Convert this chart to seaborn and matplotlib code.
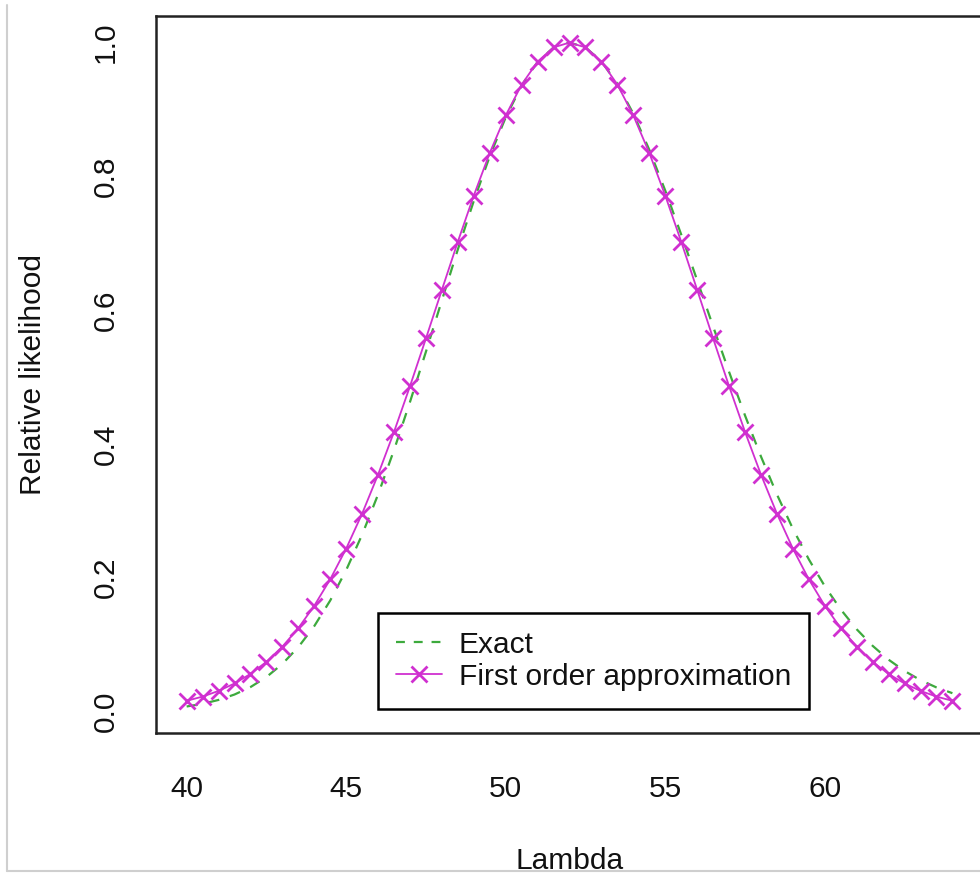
import matplotlib
matplotlib.use("Agg")
import matplotlib.pyplot as plt
from matplotlib.lines import Line2D
import pandas as pd
import seaborn as sns

# Grid of lambda values
lam = [40.0, 40.5, 41.0, 41.5, 42.0, 42.5, 43.0, 43.5, 44.0, 44.5,
       45.0, 45.5, 46.0, 46.5, 47.0, 47.5, 48.0, 48.5, 49.0, 49.5,
       50.0, 50.5, 51.0, 51.5, 52.0, 52.5, 53.0, 53.5, 54.0, 54.5,
       55.0, 55.5, 56.0, 56.5, 57.0, 57.5, 58.0, 58.5, 59.0, 59.5,
       60.0, 60.5, 61.0, 61.5, 62.0, 62.5, 63.0, 63.5, 64.0]

# Exact relative likelihood
exact = [0.0072, 0.0112, 0.0170, 0.0251, 0.0362, 0.0512, 0.0709, 0.0960, 0.1274, 0.1657,
         0.2112, 0.2642, 0.3243, 0.3908, 0.4626, 0.5378, 0.6146, 0.6907, 0.7633, 0.8300,
         0.8882, 0.9359, 0.9712, 0.9927, 1.0000, 0.9928, 0.9719, 0.9383, 0.8935, 0.8397,
         0.7787, 0.7130, 0.6446, 0.5755, 0.5076, 0.4424, 0.3810, 0.3243, 0.2730, 0.2272,
         0.1871, 0.1523, 0.1227, 0.0979, 0.0772, 0.0603, 0.0466, 0.0357, 0.0271]

# First order (normal) approximation
approx = [0.0157, 0.0220, 0.0305, 0.0416, 0.0559, 0.0740, 0.0967, 0.1244, 0.1579, 0.1974,
          0.2433, 0.2956, 0.3540, 0.4179, 0.4862, 0.5576, 0.6303, 0.7023, 0.7713, 0.8350,
          0.8910, 0.9372, 0.9716, 0.9928, 1.0000, 0.9928, 0.9716, 0.9372, 0.8910, 0.8350,
          0.7713, 0.7023, 0.6303, 0.5576, 0.4862, 0.4179, 0.3540, 0.2956, 0.2433, 0.1974,
          0.1579, 0.1244, 0.0967, 0.0740, 0.0559, 0.0416, 0.0305, 0.0220, 0.0157]

series_labels = ["Exact", "First order approximation"]
x_ticks = [40, 45, 50, 55, 60]
y_ticks = [0.0, 0.2, 0.4, 0.6, 0.8, 1.0]
y_tick_labels = ["0.0", "0.2", "0.4", "0.6", "0.8", "1.0"]

GREEN = "#3daa3d"
MAGENTA = "#d030d0"
INK = "#111111"
FS = 21.5

sns.set_theme(style="white")
plt.rcParams["font.family"] = ["Liberation Sans", "DejaVu Sans"]

df = pd.DataFrame({"Lambda": lam, "Exact": exact, "Approx": approx})

fig = plt.figure(figsize=(9.8, 8.76), dpi=100)
ax = fig.add_axes([0.1592, 0.1632, 0.8439, 0.8185])

sns.lineplot(data=df, x="Lambda", y="Exact", ax=ax, color=GREEN,
             linewidth=1.6, linestyle=(0, (5, 5)))
sns.lineplot(data=df, x="Lambda", y="Approx", ax=ax, color=MAGENTA,
             linewidth=1.3, marker="x", markersize=11, markeredgewidth=2.0,
             markeredgecolor=MAGENTA)

ax.set_xlim(39.04, 64.96)
ax.set_ylim(-0.0325, 1.0397)
ax.set_xticks(x_ticks)
ax.set_xticklabels([str(t) for t in x_ticks])
ax.set_yticks(y_ticks)
ax.set_yticklabels(y_tick_labels, rotation=90, va="center")

for side, sp in ax.spines.items():
    sp.set_color("#222222")
    sp.set_linewidth(1.8)

ax.tick_params(axis="both", direction="out", length=11.5, width=1.8,
               color="#222222", labelsize=FS, labelcolor=INK)
ax.tick_params(axis="x", pad=19)
ax.tick_params(axis="y", pad=14.5)

ax.set_xlabel("Lambda", fontsize=FS, color=INK)
ax.xaxis.label.set_va("baseline")
ax.xaxis.set_label_coords(0.5, -0.1897)
ax.set_ylabel("Relative likelihood", fontsize=FS, color=INK)
ax.yaxis.label.set_va("center")
ax.yaxis.set_label_coords(-0.1490, 0.5)

handles = [
    Line2D([], [], color=GREEN, linewidth=1.6, linestyle=(0, (4, 4))),
    Line2D([], [], color=MAGENTA, linewidth=1.3, marker="x", markersize=11,
           markeredgewidth=2.0),
]
leg = ax.legend(handles, series_labels, loc="upper left",
                bbox_to_anchor=(0.2684, 0.1674), borderaxespad=0,
                frameon=True, fancybox=False, framealpha=1, edgecolor="black",
                fontsize=FS, handlelength=1.55, handletextpad=0.55,
                borderpad=0.6, labelspacing=0.13)
leg.get_frame().set_linewidth(1.8)
for t in leg.get_texts():
    t.set_color(INK)

# faint outer frame on the left and bottom
fig.add_artist(Line2D([7 / 980, 7 / 980], [1 - 5 / 876, 1 - 871 / 876],
                      transform=fig.transFigure, color="#cfcfcf", linewidth=1.5))
fig.add_artist(Line2D([7 / 980, 1.0], [1 - 871 / 876, 1 - 871 / 876],
                      transform=fig.transFigure, color="#cfcfcf", linewidth=1.5))

fig.savefig("out.png", dpi=100, facecolor="white")
